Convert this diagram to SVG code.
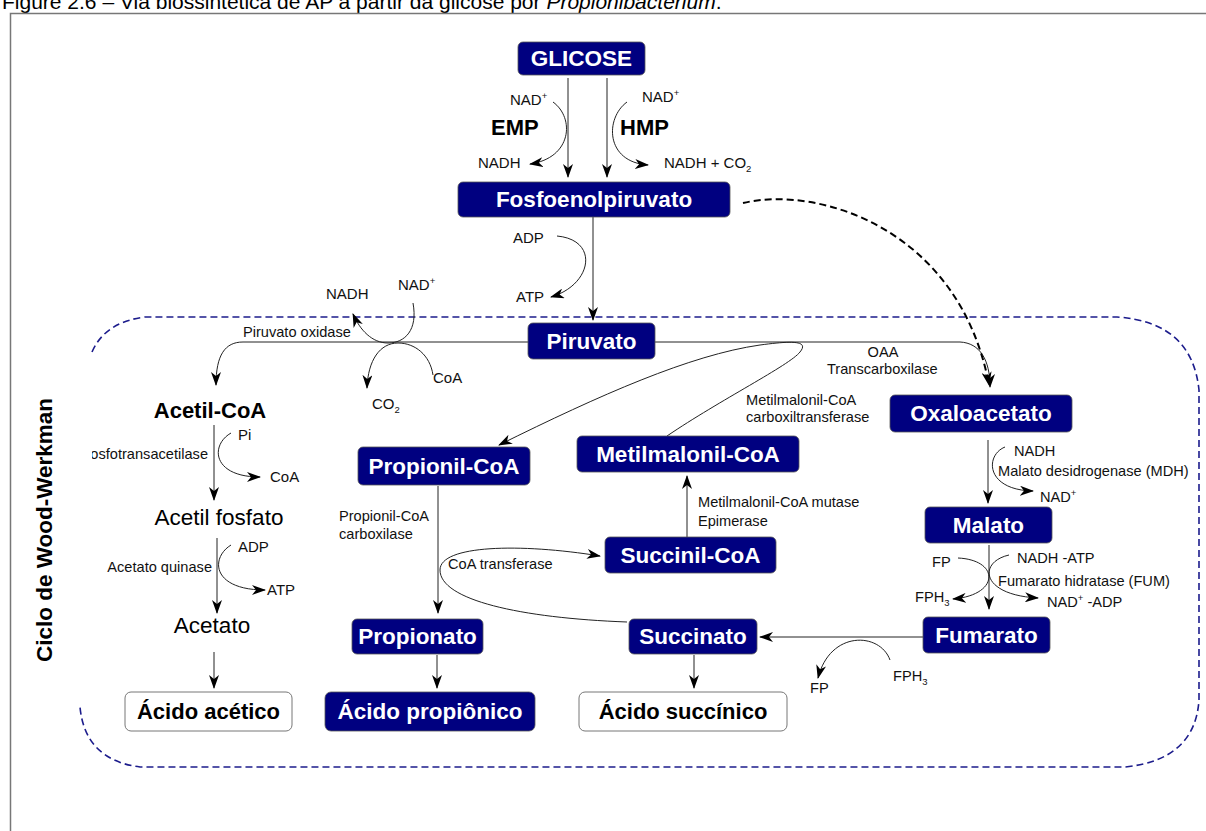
<svg xmlns="http://www.w3.org/2000/svg" width="1206" height="831" viewBox="0 0 1206 831">
<defs>
<style>
.node{fill:#000080;stroke:#555;stroke-width:0.8}
.wnode{fill:#fff;stroke:#777;stroke-width:1}
.nt{font-family:"Liberation Sans",Arial,sans-serif;font-weight:bold;font-size:22.5px;fill:#fff;text-anchor:middle}
.wt{font-family:"Liberation Sans",Arial,sans-serif;font-weight:bold;font-size:22px;fill:#000;text-anchor:middle}
.big{font-family:"Liberation Sans",Arial,sans-serif;font-size:22.5px;fill:#000;text-anchor:middle}
.bigb{font-family:"Liberation Sans",Arial,sans-serif;font-size:22px;font-weight:bold;fill:#000}
.lb{font-family:"Liberation Sans",Arial,sans-serif;font-size:15px;fill:#111}
.sm{font-family:"Liberation Sans",Arial,sans-serif;font-size:14.6px;fill:#111}
.ln{fill:none;stroke:#222;stroke-width:1}
.ar{fill:none;stroke:#222;stroke-width:1;marker-end:url(#ah)}
.dash{fill:none;stroke:#000;stroke-width:2;stroke-dasharray:7,4;marker-end:url(#ah)}
.sup{font-size:9.5px}
</style>
<marker id="ah" viewBox="0 0 14 10" refX="13" refY="5" markerWidth="14" markerHeight="10" orient="auto" markerUnits="userSpaceOnUse"><path d="M0,0 L14,5 L0,10 L4,5 Z" fill="#000"/></marker>
<clipPath id="clipL"><rect x="92" y="0" width="1114" height="831"/></clipPath>
</defs>
<rect width="1206" height="831" fill="#fff"/>
<text x="2" y="9" font-family="'Liberation Sans',Arial,sans-serif" font-size="21" fill="#000">Figure 2.6 – Via biossintética de AP  a partir da glicose por <tspan font-style="italic">Propionibacterium</tspan>.</text>
<path d="M10.5,831 L10.5,13.5 L1206,13.5" fill="none" stroke="#777" stroke-width="1.5"/>

<g id="cycle-boundary">
<path d="M92,352 Q105,322 145,317 L1117,317 Q1192,322 1199,390 L1199,700 Q1195,760 1125,767 L140,767 Q85,760 80,707" fill="none" stroke="#1c1c8c" stroke-width="1.6" stroke-dasharray="7,4"/>
<text transform="translate(52,530) rotate(-90)" font-family="'Liberation Sans',Arial,sans-serif" font-size="22.5" font-weight="bold" text-anchor="middle" fill="#000">Ciclo de Wood-Werkman</text>
</g>

<g id="connectors">
<path class="ar" d="M568,78 L568,177"/>
<path class="ar" d="M607,78 L607,177"/>
<path class="ar" d="M553,102 C575,118 572,158 530,164"/>
<path class="ar" d="M627,102 C605,118 605,162 648,165"/>
<path class="ar" d="M593,217 L593,320"/>
<path class="ar" d="M557,236 C600,240 592,285 551,297"/>
<path class="ln" d="M243,342 L528,342"/>
<path class="ar" d="M655,342 L960,342 C980,343 990,360 990,387"/>
<path class="ar" d="M243,342 C225,342 216,355 216,385"/>
<path class="ar" d="M413,303 C418,330 405,343 388,343 C372,343 360,330 353,314"/>
<path class="ar" d="M433,375 C430,355 415,343 398,343 C380,343 368,360 367,388"/>
<path class="dash" d="M743,203 C820,185 960,230 989,385"/>
<path class="ar" d="M667,436 C720,400 790,365 800,352 C810,340 790,341 760,345 C690,355 600,395 499,445"/>
<path class="ar" d="M214,425 L214,500"/>
<path class="ar" d="M231,433 C210,445 212,477 260,477"/>
<path class="ar" d="M217,538 L217,613"/>
<path class="ar" d="M231,545 C210,558 212,590 265,590"/>
<path class="ar" d="M214,652 L214,688"/>
<path class="ar" d="M438,486 L438,613"/>
<path class="ar" d="M437,655 L437,688"/>
<path class="ar" d="M694,655 L694,688"/>
<path class="ar" d="M687,537 L687,476"/>
<path class="ar" d="M627,622 C520,618 440,600 440,570 C440,545 520,543 600,556"/>
<path class="ar" d="M988,440 L988,503"/>
<path class="ar" d="M1005,447 C985,455 985,490 1033,491"/>
<path class="ar" d="M989,545 L989,609"/>
<path class="ar" d="M958,558 C1000,560 1000,595 953,599"/>
<path class="ar" d="M1009,555 C978,562 980,595 1038,598"/>
<path class="ar" d="M923,637 L760,637"/>
<path class="ar" d="M890,660 C880,632 830,630 818,678"/>
</g>

<g id="labels">
<text class="lb" x="510" y="105">NAD<tspan class="sup" dy="-6">+</tspan></text>
<text class="bigb" x="491" y="135">EMP</text>
<text class="lb" x="478" y="168">NADH</text>
<text class="lb" x="642" y="102">NAD<tspan class="sup" dy="-6">+</tspan></text>
<text class="bigb" x="620" y="135">HMP</text>
<text class="lb" x="664" y="168">NADH + CO<tspan font-size="9.5" dy="4">2</tspan></text>
<text class="lb" x="513" y="243">ADP</text>
<text class="lb" x="516" y="302">ATP</text>
<text class="lb" x="326" y="299">NADH</text>
<text class="lb" x="398" y="290">NAD<tspan class="sup" dy="-6">+</tspan></text>
<text class="sm" x="243" y="337">Piruvato oxidase</text>
<text class="lb" x="433" y="383">CoA</text>
<text class="lb" x="372" y="409">CO<tspan font-size="9.5" dy="4">2</tspan></text>
<text class="sm" x="883" y="357" text-anchor="middle">OAA</text>
<text class="sm" x="827" y="374">Transcarboxilase</text>
<text class="sm" x="746" y="405">Metilmalonil-CoA</text>
<text class="sm" x="746" y="422">carboxiltransferase</text>
<text class="bigb" x="210" y="418" text-anchor="middle">Acetil-CoA</text>
<text class="lb" x="238" y="440">Pi</text>
<text class="sm" x="208" y="459" text-anchor="end" clip-path="url(#clipL)">Fosfotransacetilase</text>
<text class="lb" x="270" y="482">CoA</text>
<text class="big" x="219" y="525">Acetil fosfato</text>
<text class="lb" x="238" y="552">ADP</text>
<text class="sm" x="212" y="572" text-anchor="end">Acetato quinase</text>
<text class="lb" x="267" y="595">ATP</text>
<text class="big" x="212" y="633">Acetato</text>
<text class="sm" x="339" y="521">Propionil-CoA</text>
<text class="sm" x="339" y="539">carboxilase</text>
<text class="sm" x="448" y="569">CoA transferase</text>
<text class="sm" x="698" y="507">Metilmalonil-CoA mutase</text>
<text class="sm" x="698" y="526">Epimerase</text>
<text class="sm" x="1014" y="456">NADH</text>
<text class="sm" x="998" y="476">Malato desidrogenase (MDH)</text>
<text class="sm" x="1040" y="502">NAD<tspan class="sup" dy="-6">+</tspan></text>
<text class="sm" x="932" y="567">FP</text>
<text class="sm" x="1017" y="563">NADH -ATP</text>
<text class="sm" x="998" y="586">Fumarato hidratase (FUM)</text>
<text class="sm" x="915" y="602">FPH<tspan font-size="9.5" dy="4">3</tspan></text>
<text class="sm" x="1047" y="607">NAD<tspan class="sup" dy="-6">+</tspan><tspan dy="6"> -ADP</tspan></text>
<text class="sm" x="893" y="681">FPH<tspan font-size="9.5" dy="4">3</tspan></text>
<text class="sm" x="810" y="693">FP</text>
</g>

<g id="n-glicose"><rect class="node" x="518" y="42" width="127" height="33" rx="5"/><text class="nt" x="581.5" y="66">GLICOSE</text></g>
<g id="n-pep"><rect class="node" x="458" y="182" width="272" height="35" rx="5"/><text class="nt" x="594" y="207">Fosfoenolpiruvato</text></g>
<g id="n-piruvato"><rect class="node" x="528" y="323" width="127" height="36" rx="5"/><text class="nt" x="591.5" y="349">Piruvato</text></g>
<g id="n-oxaloacetato"><rect class="node" x="890" y="395" width="182" height="37" rx="5"/><text class="nt" x="981" y="421">Oxaloacetato</text></g>
<g id="n-malato"><rect class="node" x="925" y="507" width="127" height="36" rx="5"/><text class="nt" x="988.5" y="533">Malato</text></g>
<g id="n-fumarato"><rect class="node" x="923" y="617" width="127" height="36" rx="5"/><text class="nt" x="986.5" y="643">Fumarato</text></g>
<g id="n-succinato"><rect class="node" x="629" y="619" width="128" height="35" rx="5"/><text class="nt" x="693" y="644">Succinato</text></g>
<g id="n-propionato"><rect class="node" x="352" y="619" width="131" height="35" rx="5"/><text class="nt" x="417.5" y="644">Propionato</text></g>
<g id="n-propionilcoa"><rect class="node" x="358" y="447" width="172" height="38" rx="5"/><text class="nt" x="444" y="474">Propionil-CoA</text></g>
<g id="n-metilmalonilcoa"><rect class="node" x="577" y="436" width="222" height="36" rx="5"/><text class="nt" x="688" y="462">Metilmalonil-CoA</text></g>
<g id="n-succinilcoa"><rect class="node" x="605" y="537" width="171" height="36" rx="5"/><text class="nt" x="690.5" y="563">Succinil-CoA</text></g>
<g id="n-acido-acetico"><rect class="wnode" x="125" y="692" width="167" height="39" rx="6"/><text class="wt" x="208.5" y="719">Ácido acético</text></g>
<g id="n-acido-propionico"><rect class="node" x="325" y="692" width="210" height="39" rx="6"/><text class="nt" x="430" y="719">Ácido propiônico</text></g>
<g id="n-acido-succinico"><rect class="wnode" x="579" y="692" width="208" height="39" rx="6"/><text class="wt" x="683" y="719">Ácido succínico</text></g>
</svg>
